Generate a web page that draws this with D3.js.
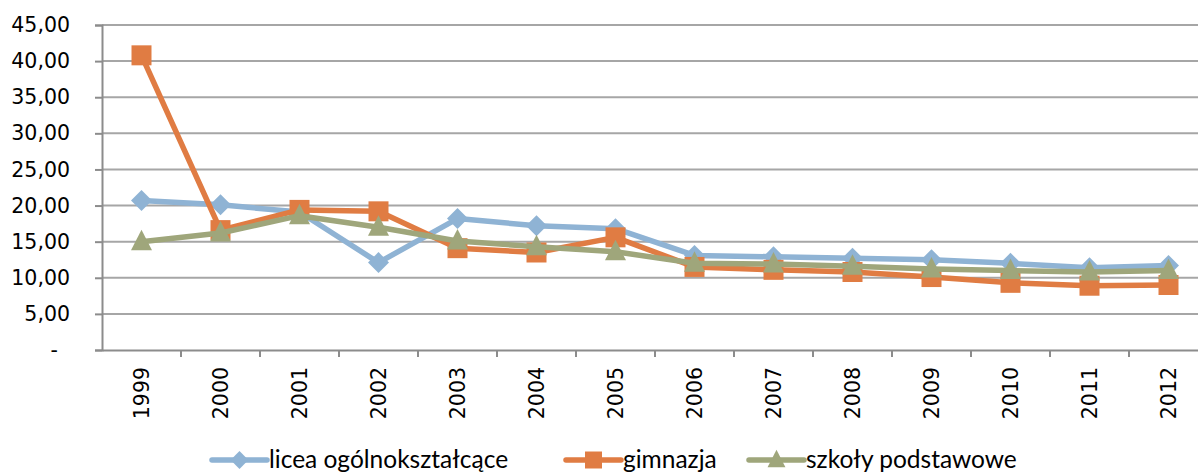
<!DOCTYPE html>
<html><head><meta charset="utf-8">
<script src="https://cdn.jsdelivr.net/npm/d3@7"></script>
<style>
html,body{margin:0;padding:0;background:#fff;}
svg{display:block;}
</style></head>
<body>
<svg id="chart" width="1198" height="474"></svg>
<script>
const years = ["1999","2000","2001","2002","2003","2004","2005","2006","2007","2008","2009","2010","2011","2012"];
const licea = [20.7, 20.1, 19.1, 12.1, 18.2, 17.2, 16.8, 13.1, 12.9, 12.7, 12.5, 12.0, 11.4, 11.7];
const gimnazja = [40.8, 16.6, 19.4, 19.2, 14.1, 13.5, 15.6, 11.5, 11.1, 10.8, 10.1, 9.3, 8.9, 9.0];
const szkoly = [15.0, 16.2, 18.6, 17.0, 15.1, 14.3, 13.6, 12.0, 11.9, 11.6, 11.2, 11.0, 10.8, 11.0];
const yTicks = [0, 5, 10, 15, 20, 25, 30, 35, 40, 45];
const seriesNames = ["licea ogólnokształcące", "gimnazja", "szkoły podstawowe"];

(function () {
const series = [
  {name: seriesNames[0], values: licea, color: "#8fb3d4", shape: "diamond"},
  {name: seriesNames[1], values: gimnazja, color: "#e07c43", shape: "square"},
  {name: seriesNames[2], values: szkoly, color: "#9fa67b", shape: "triangle"}
];

const svg = d3.select("#chart");
const mLeft = 102, mRight = 1208, mTop = 25, mBottom = 350;
const x = d3.scaleBand().domain(years).range([mLeft, mRight]);
const y = d3.scaleLinear().domain([0, 45]).range([mBottom, mTop]);
const grid = "#a6a6a6";
const font = "DejaVu Sans, sans-serif";

// gridlines
svg.append("g").selectAll("line").data(yTicks.filter(d => d > 0)).join("line")
  .attr("x1", mLeft).attr("x2", 1198)
  .attr("y1", d => y(d)).attr("y2", d => y(d))
  .attr("stroke", grid).attr("stroke-width", 2);

// y axis
const yAxis = d3.axisLeft(y).tickValues(yTicks).tickSize(7).tickPadding(25)
  .tickFormat(d => d === 0 ? "-" : d3.format(".2f")(d).replace(".", ","));
const gy = svg.append("g").attr("transform", `translate(${mLeft},0)`).call(yAxis);
gy.select(".domain").attr("stroke", "#8c8c8c").attr("stroke-width", 2);
gy.selectAll(".tick line").attr("stroke", "#8c8c8c").attr("stroke-width", 2);
gy.selectAll(".tick text").attr("font-family", font).attr("font-size", 20.5).attr("fill", "#000")
  .attr("x", d => d === 0 ? -44 : -32);

// x axis
const xAxis = d3.axisBottom(x).tickSize(0).tickFormat(d => d);
const gx = svg.append("g").attr("transform", `translate(0,${mBottom})`).call(xAxis);
gx.select(".domain").attr("stroke", "#8c8c8c").attr("stroke-width", 2);
gx.selectAll(".tick text").attr("font-family", font).attr("font-size", 20.5).attr("fill", "#000")
  .attr("transform", "rotate(-90)").attr("text-anchor", "end")
  .attr("x", -17).attr("y", 0).attr("dy", "0.36em");
// category boundary ticks
svg.append("g").selectAll("line").data(years.slice(1)).join("line")
  .attr("x1", d => x(d)).attr("x2", d => x(d))
  .attr("y1", mBottom).attr("y2", mBottom + 7)
  .attr("stroke", "#8c8c8c").attr("stroke-width", 2);

function symbolPath(shape) {
  if (shape === "square") return "M-10,-10H10V10H-10Z";
  if (shape === "diamond") return "M0,-10.5L10.5,0L0,10.5L-10.5,0Z";
  return "M0,-12L10.5,8.5H-10.5Z";
}

const cx = (d, i) => x(years[i]) + x.bandwidth() / 2;
const line = d3.line().x((d, i) => cx(d, i)).y(d => y(d));

series.forEach(s => {
  const g = svg.append("g");
  g.append("path").datum(s.values).attr("d", line)
    .attr("fill", "none").attr("stroke", s.color).attr("stroke-width", 5.5)
    .attr("stroke-linejoin", "round");
  g.selectAll("path.m").data(s.values).join("path").attr("class", "m")
    .attr("d", symbolPath(s.shape))
    .attr("transform", (d, i) => `translate(${cx(d, i)},${y(d)})`)
    .attr("fill", s.color);
});

// legend
const legendPos = [212, 566, 749];
const lg = svg.append("g");
series.forEach((s, i) => {
  const lx = legendPos[i], ly = 460;
  lg.append("line").attr("x1", lx).attr("x2", lx + 55).attr("y1", ly).attr("y2", ly)
    .attr("stroke", s.color).attr("stroke-width", 5.5).attr("stroke-linecap", "round");
  lg.append("path").attr("d", symbolPath(s.shape))
    .attr("transform", `translate(${lx + 27.5},${ly}) scale(0.85)`).attr("fill", s.color);
  lg.append("text").attr("x", lx + 57).attr("y", 468)
    .attr("font-family", "Lato, sans-serif").attr("font-size", 24.5).attr("fill", "#000")
    .text(s.name);
});
})();
</script>
</body></html>
